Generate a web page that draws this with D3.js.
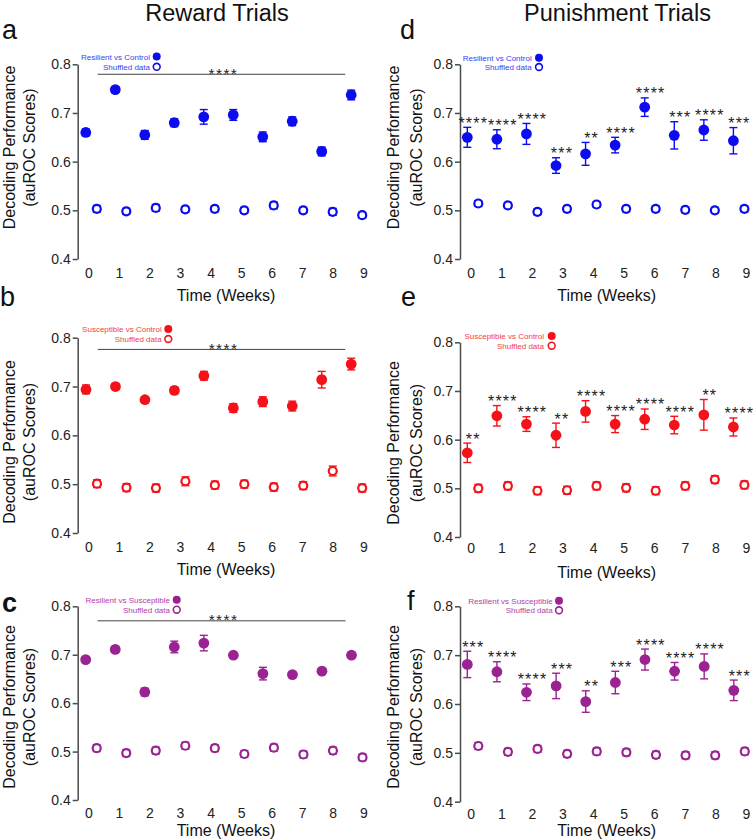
<!DOCTYPE html>
<html>
<head>
<meta charset="utf-8">
<script src="https://cdn.jsdelivr.net/npm/d3@7/dist/d3.min.js"></script>
<style>
  html, body { margin: 0; padding: 0; background: #fff; }
  svg { display: block; font-family: "Liberation Sans", Arial, sans-serif; }
</style>
</head>
<body>
<svg id="chart" width="755" height="839"></svg>
<script>
// ---------------- DATA ----------------
const weeks = [0, 1, 2, 3, 4, 5, 6, 7, 8, 9];
const weekLabels = ["0", "1", "2", "3", "4", "5", "6", "7", "8", "9"];
const yTicks = [0.4, 0.5, 0.6, 0.7, 0.8];
const columnTitles = ["Reward Trials", "Punishment Trials"];
const xTitle = "Time (Weeks)";
const yTitle1 = "Decoding Performance";
const yTitle2 = "(auROC Scores)";

// a: Reward, Resilient vs Control
const aMean = [0.660, 0.748, 0.655, 0.680, 0.692, 0.696, 0.651, 0.683, 0.621, 0.737];
const aErr  = [0.007, 0.006, 0.009, 0.008, 0.015, 0.011, 0.010, 0.009, 0.009, 0.010];
const aShuf = [0.503, 0.498, 0.505, 0.502, 0.503, 0.500, 0.510, 0.500, 0.497, 0.490];
const aShufErr = [0.007, 0.006, 0.007, 0.006, 0.006, 0.006, 0.007, 0.006, 0.007, 0.006];

// b: Reward, Susceptible vs Control
const bMean = [0.694, 0.700, 0.673, 0.692, 0.722, 0.656, 0.669, 0.660, 0.714, 0.746];
const bErr  = [0.009, 0.006, 0.006, 0.007, 0.009, 0.009, 0.010, 0.010, 0.017, 0.012];
const bShuf = [0.501, 0.493, 0.492, 0.506, 0.498, 0.500, 0.494, 0.497, 0.527, 0.492];
const bShufErr = [0.008, 0.008, 0.008, 0.009, 0.008, 0.008, 0.008, 0.008, 0.010, 0.008];

// c: Reward, Resilient vs Susceptible
const cMean = [0.690, 0.711, 0.623, 0.716, 0.724, 0.699, 0.661, 0.659, 0.666, 0.699];
const cErr  = [0.005, 0.006, 0.008, 0.012, 0.016, 0.005, 0.013, 0.004, 0.004, 0.006];
const cShuf = [0.507, 0.497, 0.502, 0.512, 0.507, 0.495, 0.508, 0.494, 0.502, 0.488];
const cShufErr = [0.007, 0.007, 0.007, 0.007, 0.007, 0.007, 0.007, 0.007, 0.007, 0.007];

// d: Punishment, Resilient vs Control
const dMean = [0.650, 0.646, 0.657, 0.592, 0.616, 0.634, 0.712, 0.654, 0.665, 0.643];
const dErr  = [0.0205, 0.0195, 0.0215, 0.016, 0.0235, 0.016, 0.019, 0.028, 0.021, 0.027];
const dShuf = [0.514, 0.510, 0.497, 0.503, 0.512, 0.503, 0.503, 0.501, 0.500, 0.503];
const dShufErr = [0.006, 0.006, 0.006, 0.006, 0.006, 0.006, 0.006, 0.006, 0.006, 0.006];
const dStars = ["****", "****", "****", "***", "**", "****", "****", "***", "****", "***"];

// e: Punishment, Susceptible vs Control
const eMean = [0.573, 0.649, 0.632, 0.609, 0.658, 0.632, 0.642, 0.630, 0.651, 0.626];
const eErr  = [0.020, 0.021, 0.015, 0.025, 0.022, 0.0175, 0.021, 0.018, 0.0315, 0.0185];
const eShuf = [0.500, 0.505, 0.495, 0.496, 0.505, 0.501, 0.495, 0.505, 0.518, 0.507];
const eShufErr = [0.008, 0.008, 0.008, 0.008, 0.008, 0.008, 0.008, 0.008, 0.008, 0.008];
const eStars = ["**", "****", "****", "**", "****", "****", "****", "****", "**", "****"];

// f: Punishment, Resilient vs Susceptible
const fMean = [0.681, 0.666, 0.624, 0.637, 0.605, 0.644, 0.691, 0.667, 0.677, 0.628];
const fErr  = [0.027, 0.0205, 0.017, 0.026, 0.022, 0.023, 0.0215, 0.018, 0.0255, 0.021];
const fShuf = [0.514, 0.502, 0.508, 0.498, 0.503, 0.501, 0.496, 0.495, 0.495, 0.503];
const fShufErr = [0.007, 0.007, 0.007, 0.007, 0.007, 0.007, 0.007, 0.007, 0.007, 0.007];
const fStars = ["***", "****", "****", "***", "**", "***", "****", "****", "****", "***"];

// overall significance bracket for reward panels: [from week, to week, level, star label]
const aBracket = [0.4, 8.8, 0.7795, "****"];
const bBracket = [0.4, 8.8, 0.776, "****"];
const cBracket = [0.4, 8.8, 0.770, "****"];

// ---------------- LAYOUT ----------------
const BLUE = "#0c0cf0", RED = "#f4121a", PURPLE = "#9a2292";
const LBLUE = "#3c3cf4", LRED = "#f23c44", LPURPLE = "#b040a8";

const panels = [
  { letter: "a", lx: 2, ly: 39, col: 0, mean: aMean, err: aErr, shuf: aShuf, shufErr: aShufErr, stars: null, bracket: aBracket,
    color: BLUE, lcolor: LBLUE, legend: "Resilient vs Control",
    axisX: 77.7, yTop: 64.3, yBot: 259, px0: 85.8, px9: 351.2, lx0: 88.3, lx9: 363.3, tickY: 277.7, timeY: 300.5,
    legEnd: 150, legCx: 156.7, legY1: 56.5, legY2: 66.8, yt1: 14.5, yt2: 34.5, ytc: 147.5 },
  { letter: "b", lx: 0, ly: 306, col: 0, mean: bMean, err: bErr, shuf: bShuf, shufErr: bShufErr, stars: null, bracket: bBracket,
    color: RED, lcolor: LRED, legend: "Susceptible vs Control",
    axisX: 77.7, yTop: 337.7, yBot: 533, px0: 86, px9: 351.2, lx0: 88.3, lx9: 363.3, tickY: 551.7, timeY: 574.5,
    legEnd: 161.7, legCx: 168.3, legY1: 329, legY2: 339, yt1: 14.5, yt2: 34.5, ytc: 442 },
  { letter: "c", lx: 2, ly: 612, col: 0, mean: cMean, err: cErr, shuf: cShuf, shufErr: cShufErr, stars: null, bracket: cBracket,
    color: PURPLE, lcolor: LPURPLE, legend: "Resilient vs Susceptible",
    axisX: 77.7, yTop: 606.3, yBot: 800, px0: 85.7, px9: 351.5, lx0: 88.3, lx9: 363.3, tickY: 818.3, timeY: 835.5,
    legEnd: 170, legCx: 176.7, legY1: 599.7, legY2: 609.7, yt1: 14.5, yt2: 34.5, ytc: 707 },
  { letter: "d", lx: 400, ly: 39, col: 1, mean: dMean, err: dErr, shuf: dShuf, shufErr: dShufErr, stars: dStars, bracket: null,
    color: BLUE, lcolor: LBLUE, legend: "Resilient vs Control",
    axisX: 460, yTop: 64.3, yBot: 259, px0: 467.3, px9: 733.4, lx0: 470.7, lx9: 746, tickY: 277.7, timeY: 300.5,
    legEnd: 531.7, legCx: 539, legY1: 57.7, legY2: 67, yt1: 398.5, yt2: 421.5, ytc: 147.5 },
  { letter: "e", lx: 401, ly: 306, col: 1, mean: eMean, err: eErr, shuf: eShuf, shufErr: eShufErr, stars: eStars, bracket: null,
    color: RED, lcolor: LRED, legend: "Susceptible vs Control",
    axisX: 460, yTop: 342.3, yBot: 537, px0: 467.3, px9: 733.4, lx0: 470.7, lx9: 746, tickY: 553.3, timeY: 577.5,
    legEnd: 544, legCx: 551.7, legY1: 336, legY2: 345.7, yt1: 398.5, yt2: 421.5, ytc: 443 },
  { letter: "f", lx: 407, ly: 610, col: 1, mean: fMean, err: fErr, shuf: fShuf, shufErr: fShufErr, stars: fStars, bracket: null,
    color: PURPLE, lcolor: LPURPLE, legend: "Resilient vs Susceptible",
    axisX: 460, yTop: 606.3, yBot: 801.7, px0: 467.3, px9: 733.8, lx0: 470.7, lx9: 746, tickY: 819.3, timeY: 835.5,
    legEnd: 552.7, legCx: 559, legY1: 600.7, legY2: 610.3, yt1: 398.5, yt2: 421.5, ytc: 707 }
];

const svg = d3.select("#chart");
const AXIS = "#4a4a4a";

// column titles
svg.selectAll("text.coltitle").data(columnTitles).join("text")
  .attr("class", "coltitle")
  .attr("x", (d, i) => i === 0 ? 217 : 617.5)
  .attr("y", 21)
  .attr("text-anchor", "middle")
  .attr("font-size", 23.5)
  .attr("fill", "#111")
  .text(d => d);

panels.forEach(p => {
  const g = svg.append("g");
  const y = d3.scaleLinear().domain([0.4, 0.8]).range([p.yBot, p.yTop]);
  const xp = d3.scaleLinear().domain([0, 9]).range([p.px0, p.px9]);
  const xl = d3.scaleLinear().domain([0, 9]).range([p.lx0, p.lx9]);
  const off = 11; // shuffled offset (px)

  // panel letter
  g.append("text").attr("x", p.lx).attr("y", p.ly)
    .attr("font-size", 27).attr("fill", "#111")
    .attr("font-weight", p.letter === "c" ? 700 : 400)
    .text(p.letter);

  // y axis
  const ya = g.append("g").attr("transform", `translate(${p.axisX},0)`)
    .call(d3.axisLeft(y).tickValues(yTicks).tickFormat(d3.format(".1f")).tickSize(5).tickPadding(2).tickSizeOuter(0));
  ya.select(".domain").attr("stroke", AXIS).attr("stroke-width", 1.5);
  ya.selectAll(".tick line").attr("stroke", AXIS).attr("stroke-width", 1.5);
  ya.selectAll(".tick text").attr("font-size", 14).attr("fill", "#222")
    .attr("font-family", "Liberation Sans, Arial, sans-serif");

  // x tick labels (no axis line)
  const xa = g.append("g").attr("transform", `translate(0,${p.tickY - 14})`)
    .call(d3.axisBottom(xl).tickValues(weeks).tickFormat((d, i) => weekLabels[i]).tickSize(0).tickPadding(3));
  xa.select(".domain").remove();
  xa.selectAll(".tick text").attr("font-size", 14).attr("fill", "#222").attr("dy", 0).attr("y", 14)
    .attr("font-family", "Liberation Sans, Arial, sans-serif");

  // axis titles
  g.append("text").attr("x", p.col === 0 ? 226 : 606.7).attr("y", p.timeY)
    .attr("text-anchor", "middle").attr("font-size", 16).attr("fill", "#111").text(xTitle);
  g.append("text").attr("transform", `translate(${p.yt1},${p.ytc}) rotate(-90)`)
    .attr("text-anchor", "middle").attr("font-size", 16).attr("fill", "#111").text(yTitle1);
  g.append("text").attr("transform", `translate(${p.yt2},${p.ytc}) rotate(-90)`)
    .attr("text-anchor", "middle").attr("font-size", 16).attr("fill", "#111").text(yTitle2);

  // legend
  g.append("text").attr("x", p.legEnd).attr("y", p.legY1 + 3).attr("text-anchor", "end")
    .attr("font-size", 8).attr("fill", p.lcolor).text(p.legend);
  g.append("circle").attr("cx", p.legCx).attr("cy", p.legY1).attr("r", 4).attr("fill", p.color);
  g.append("text").attr("x", p.legEnd).attr("y", p.legY2 + 3).attr("text-anchor", "end")
    .attr("font-size", 8).attr("fill", p.lcolor).text("Shuffled data");
  g.append("circle").attr("cx", p.legCx).attr("cy", p.legY2).attr("r", 3.4)
    .attr("fill", "#fff").attr("stroke", p.color).attr("stroke-width", 1.6);

  // bracket
  if (p.bracket) {
    const [w0, w1, v, lab] = p.bracket;
    g.append("line").attr("x1", xp(w0)).attr("x2", xp(w1)).attr("y1", y(v)).attr("y2", y(v))
      .attr("stroke", "#444").attr("stroke-width", 1);
    g.append("text").attr("x", (xp(w0) + xp(w1)) / 2 + 2).attr("y", y(v) + 4.5)
      .attr("text-anchor", "middle").attr("font-size", 15.5).attr("letter-spacing", 1.4).attr("fill", "#222").text(lab);
  }

  const mainData = weeks.map((w, i) => ({ w, m: p.mean[i], e: p.err[i], s: p.stars ? p.stars[i] : null }));
  const shufData = weeks.map((w, i) => ({ w, m: p.shuf[i], e: p.shufErr[i] }));

  const drawErr = (data, dx, sw) => {
    const eg = g.append("g").attr("stroke", p.color).attr("stroke-width", sw).attr("fill", "none");
    eg.selectAll("line.v").data(data).join("line").attr("class", "v")
      .attr("x1", d => xp(d.w) + dx).attr("x2", d => xp(d.w) + dx)
      .attr("y1", d => y(d.m - d.e)).attr("y2", d => y(d.m + d.e));
    eg.selectAll("line.t").data(data).join("line").attr("class", "t")
      .attr("x1", d => xp(d.w) + dx - 4).attr("x2", d => xp(d.w) + dx + 4)
      .attr("y1", d => y(d.m + d.e)).attr("y2", d => y(d.m + d.e));
    eg.selectAll("line.b").data(data).join("line").attr("class", "b")
      .attr("x1", d => xp(d.w) + dx - 4).attr("x2", d => xp(d.w) + dx + 4)
      .attr("y1", d => y(d.m - d.e)).attr("y2", d => y(d.m - d.e));
  };

  drawErr(mainData, 0, 1.4);
  drawErr(shufData, off, 1.4);

  g.selectAll("circle.main").data(mainData).join("circle").attr("class", "main")
    .attr("cx", d => xp(d.w)).attr("cy", d => y(d.m)).attr("r", 5.4).attr("fill", p.color);
  g.selectAll("circle.shuf").data(shufData).join("circle").attr("class", "shuf")
    .attr("cx", d => xp(d.w) + off).attr("cy", d => y(d.m)).attr("r", 4)
    .attr("fill", "#fff").attr("stroke", p.color).attr("stroke-width", 2.2);

  if (p.stars) {
    g.selectAll("text.star").data(mainData).join("text").attr("class", "star")
      .attr("x", d => xp(d.w) + 6).attr("y", d => y(d.m + d.e) + 1.5)
      .attr("text-anchor", "middle").attr("font-size", 16).attr("letter-spacing", 1.2)
      .attr("fill", "#222").text(d => d.s);
  }
});
</script>
</body>
</html>
